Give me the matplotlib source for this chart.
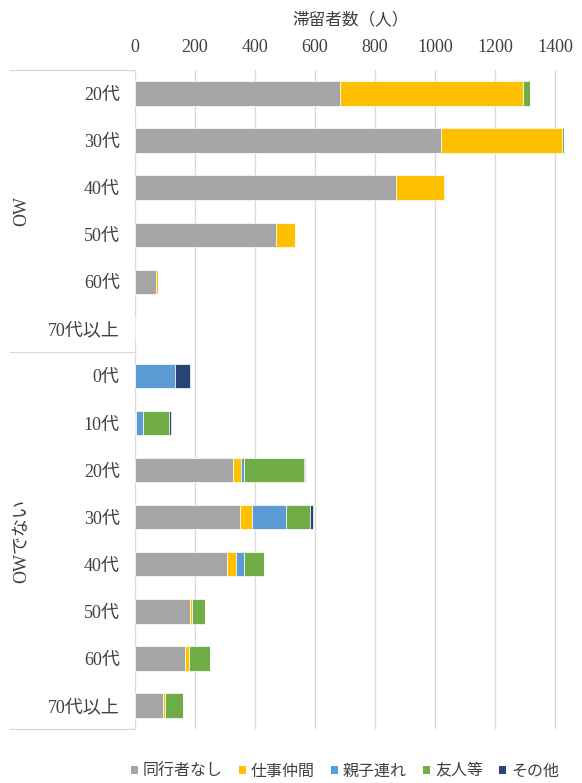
import matplotlib.pyplot as plt
from matplotlib.patches import Patch

plt.rcParams['font.family'] = ['Liberation Serif', 'Noto Sans CJK JP']

# 年代ごとの滞留者数（上: OW, 下: OWでない）
ages = ['20代', '30代', '40代', '50代', '60代', '70代以上',
        '0代', '10代', '20代', '30代', '40代', '50代', '60代', '70代以上']
groups = ['OW', 'OWでない']
group_sizes = [6, 8]

series = ['同行者なし', '仕事仲間', '親子連れ', '友人等', 'その他']
alone = [683, 1019, 869, 469, 69, 2, 0, 2, 328, 349, 308, 183, 168, 92]
work = [611, 403, 162, 64, 8, 0, 0, 0, 25, 41, 28, 7, 11, 8]
family = [0, 0, 0, 0, 0, 0, 133, 24, 10, 114, 27, 0, 0, 0]
friends = [23, 8, 3, 0, 0, 0, 0, 88, 201, 79, 67, 43, 71, 61]
other = [0, 0, 0, 0, 0, 0, 50, 6, 2, 9, 0, 0, 0, 0]
colors = ['#A5A5A5', '#FFC000', '#5B9BD5', '#70AD47', '#264478']

fig = plt.figure(figsize=(5.82, 7.83), dpi=100)
ax = fig.add_axes([135 / 582, 54 / 783, 432 / 582, 659 / 783])

pos = list(range(len(ages)))
left = [0] * len(ages)
for vals, c in zip([alone, work, family, friends, other], colors):
    ax.barh(pos, vals, left=left, height=0.52, color=c,
            edgecolor='white', linewidth=0.5, zorder=3)
    left = [l + v for l, v in zip(left, vals)]

ax.set_xlim(0, 1440)
ax.set_ylim(13.5, -0.5)
ax.set_xticks(range(0, 1401, 200))
ax.set_yticks(pos)
ax.set_yticklabels(ages)
ax.xaxis.tick_top()
ax.xaxis.set_label_position('top')
ax.set_xlabel('滞留者数（人）', fontsize=12, labelpad=11,
              family=['Noto Sans CJK JP'], color='#404040')
ax.tick_params(axis='both', length=0, labelsize=13, colors='#404040')
ax.tick_params(axis='x', pad=10)
ax.tick_params(axis='y', pad=11)
ax.grid(axis='x', color='#D9D9D9', linewidth=0.9, zorder=0)
for s in ['top', 'right', 'bottom']:
    ax.spines[s].set_visible(False)
ax.spines['left'].set_color('#D9D9D9')

# グループ区切り線とグループ名
xl = (10 - 135) / 432
tr = ax.get_yaxis_transform()
start = 0
bounds = [-0.5]
for g, n in zip(groups, group_sizes):
    mid = start + (n - 1) / 2
    ax.text((22 - 135) / 432, mid, g, transform=tr, rotation=90,
            ha='center', va='center', fontsize=13, color='#404040')
    start += n
    bounds.append(start - 0.5)
for b in bounds:
    ax.plot([xl, 0], [b, b], transform=tr, color='#D9D9D9',
            linewidth=0.9, clip_on=False)

handles = [Patch(facecolor=c, label=s) for s, c in zip(series, colors)]
fig.legend(handles=handles, loc='center', bbox_to_anchor=(345 / 582, 1 - 771 / 783),
           ncol=5, frameon=False, handlelength=0.45, handleheight=0.45,
           handletextpad=0.3, columnspacing=1.0,
           prop={'family': ['Noto Sans CJK JP'], 'size': 11.5}, labelcolor='#404040')

fig.savefig('out.png', dpi=100)
